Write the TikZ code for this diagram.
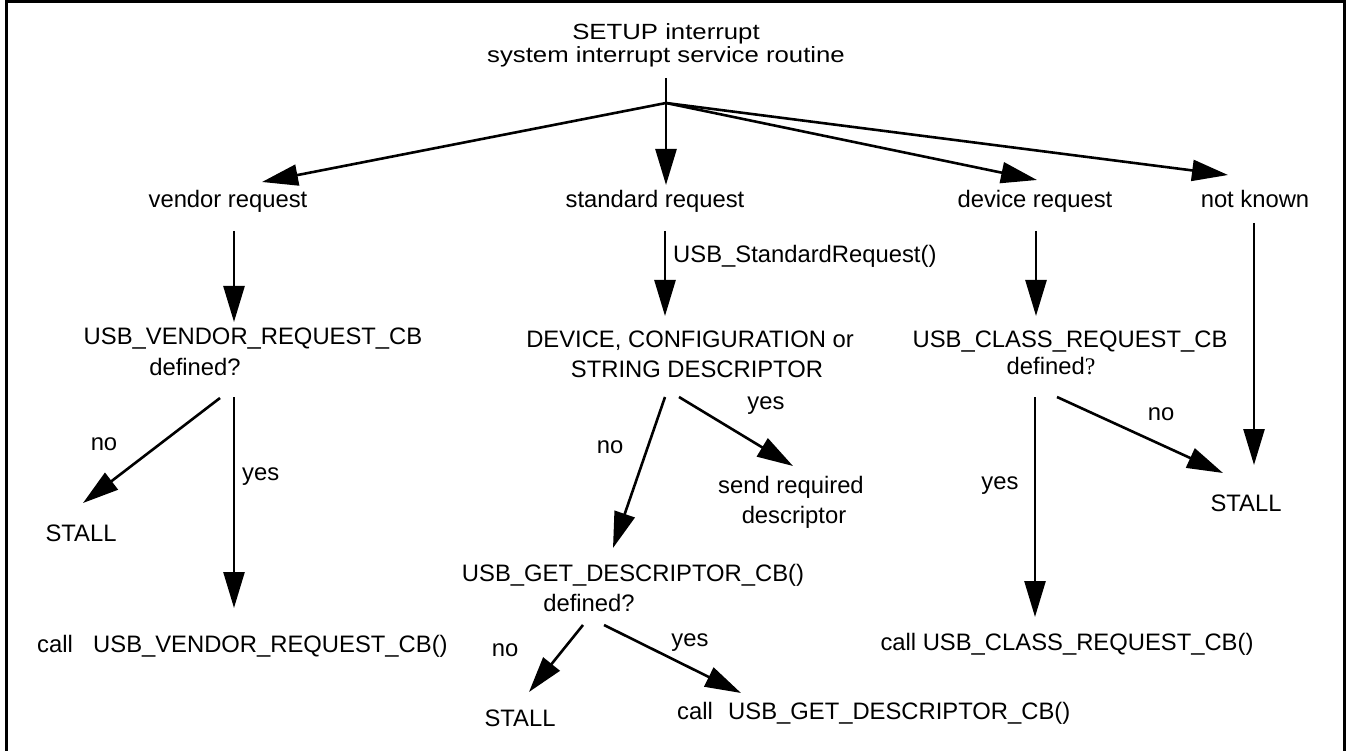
\documentclass[tikz,border=0pt]{standalone}
\usepackage{fontspec}
\setmainfont{Liberation Sans}
\newfontfamily\serifq{Liberation Serif}
\newfontfamily\ttlfont[FakeStretch=1.17]{Liberation Sans}
\usetikzlibrary{arrows.meta}
\begin{document}
\begin{tikzpicture}[x=1pt,y=-1pt,
  lbl/.style={inner sep=0pt, anchor=base, font=\fontsize{23.8}{28}\selectfont},
  lbll/.style={lbl, anchor=base west},
  ttl/.style={inner sep=0pt, anchor=base, font=\ttlfont\fontsize{22}{26}\selectfont},
  arr/.style={line width=2.6pt, -{Triangle[length=36pt,width=21pt]}},
  thin/.style={line width=1.8pt},
  frame/.style={line width=3pt}
  ]
\useasboundingbox (0,0) rectangle (1346,751);
\draw[frame] (6,751) -- (6,2) -- (1344,2) -- (1344,751);

% title
\node[ttl] (t1) at (666,40) {SETUP interrupt};
\node[ttl] (t2) at (666,63) {system interrupt service routine};

% first level
\node[lbl] (vendor) at (228,208) {vendor request};
\node[lbl] (standard) at (655,208) {standard request};
\node[lbl] (device) at (1035,208) {device request};
\node[lbl] (notknown) at (1255,208) {not known};

% vendor column
\node[lbl] (vcb) at (253,344) {USB\_VENDOR\_REQUEST\_CB};
\node[lbl] (vdef) at (195,375) {defined?};
\node[lbl] (vno) at (104,450) {no};
\node[lbll] (vyes) at (242,480) {yes};
\node[lbl] (vstall) at (81,541) {STALL};
\node[lbl] (vcall) at (55,652) {call};
\node[lbll] (vcallcb) at (93,652) {USB\_VENDOR\_REQUEST\_CB()};

% standard column
\node[lbll] (stdfn) at (673,262) {USB\_StandardRequest()};
\node[lbl] (sdev) at (690,347) {DEVICE, CONFIGURATION or};
\node[lbl] (sstr) at (697,377) {STRING DESCRIPTOR};
\node[lbl] (sno) at (610,453) {no};
\node[lbl] (syes) at (766,409) {yes};
\node[lbl] (send) at (791,493) {send required};
\node[lbl] (sdesc) at (794,523) {descriptor};
\node[lbl] (gcb) at (633,581) {USB\_GET\_DESCRIPTOR\_CB()};
\node[lbl] (gdef) at (589,611) {defined?};
\node[lbl] (gno) at (505,656) {no};
\node[lbl] (gyes) at (690,646) {yes};
\node[lbl] (gstall) at (520,726) {STALL};
\node[lbll] (gcall) at (677,719) {call};
\node[lbll] (gcallcb) at (728,719) {USB\_GET\_DESCRIPTOR\_CB()};

% device column
\node[lbl] (ccb) at (1070,347) {USB\_CLASS\_REQUEST\_CB};
\node[lbl] (cdef) at (1051,374) {defined{\serifq ?}};
\node[lbl] (cyes) at (1000,489) {yes};
\node[lbl] (cno) at (1161,420) {no};
\node[lbl] (cstall) at (1246,511) {STALL};
\node[lbl] (ccall) at (1067,650) {call USB\_CLASS\_REQUEST\_CB()};

% connector end points
\coordinate (T) at (666,78);
\coordinate (J) at (666,103);
\coordinate (Jv) at (262,182);
\coordinate (Js) at (666,185);
\coordinate (Jd) at (1037,180);
\coordinate (Jn) at (1228,175);
\coordinate (v1) at (234,231);  \coordinate (v2) at (234,322);
\coordinate (s1) at (665,231);  \coordinate (s2) at (665,316);
\coordinate (d1) at (1036,231); \coordinate (d2) at (1036,316);
\coordinate (n1) at (1254,223); \coordinate (n2) at (1254,465);
\coordinate (vn1) at (220,398); \coordinate (vn2) at (83,503);
\coordinate (vy1) at (234,397); \coordinate (vy2) at (234,608);
\coordinate (sn1) at (665,397); \coordinate (sn2) at (613,548);
\coordinate (sy1) at (679,397); \coordinate (sy2) at (793,466);
\coordinate (gn1) at (583,625); \coordinate (gn2) at (529,692);
\coordinate (gy1) at (604,625); \coordinate (gy2) at (741,693);
\coordinate (cy1) at (1035,397); \coordinate (cy2) at (1035,617);
\coordinate (cn1) at (1057,397); \coordinate (cn2) at (1223,473);

\draw[thin] (T) -- (J);
\draw[arr] (J) -- (Jv);
\draw[arr] (J) -- (Js);
\draw[arr] (J) -- (Jd);
\draw[arr] (J) -- (Jn);
\draw[arr] (v1) -- (v2);
\draw[arr] (s1) -- (s2);
\draw[arr] (d1) -- (d2);
\draw[arr] (n1) -- (n2);
\draw[arr] (vn1) -- (vn2);
\draw[arr] (vy1) -- (vy2);
\draw[arr] (sn1) -- (sn2);
\draw[arr] (sy1) -- (sy2);
\draw[arr] (gn1) -- (gn2);
\draw[arr] (gy1) -- (gy2);
\draw[arr] (cy1) -- (cy2);
\draw[arr] (cn1) -- (cn2);
\end{tikzpicture}
\end{document}
